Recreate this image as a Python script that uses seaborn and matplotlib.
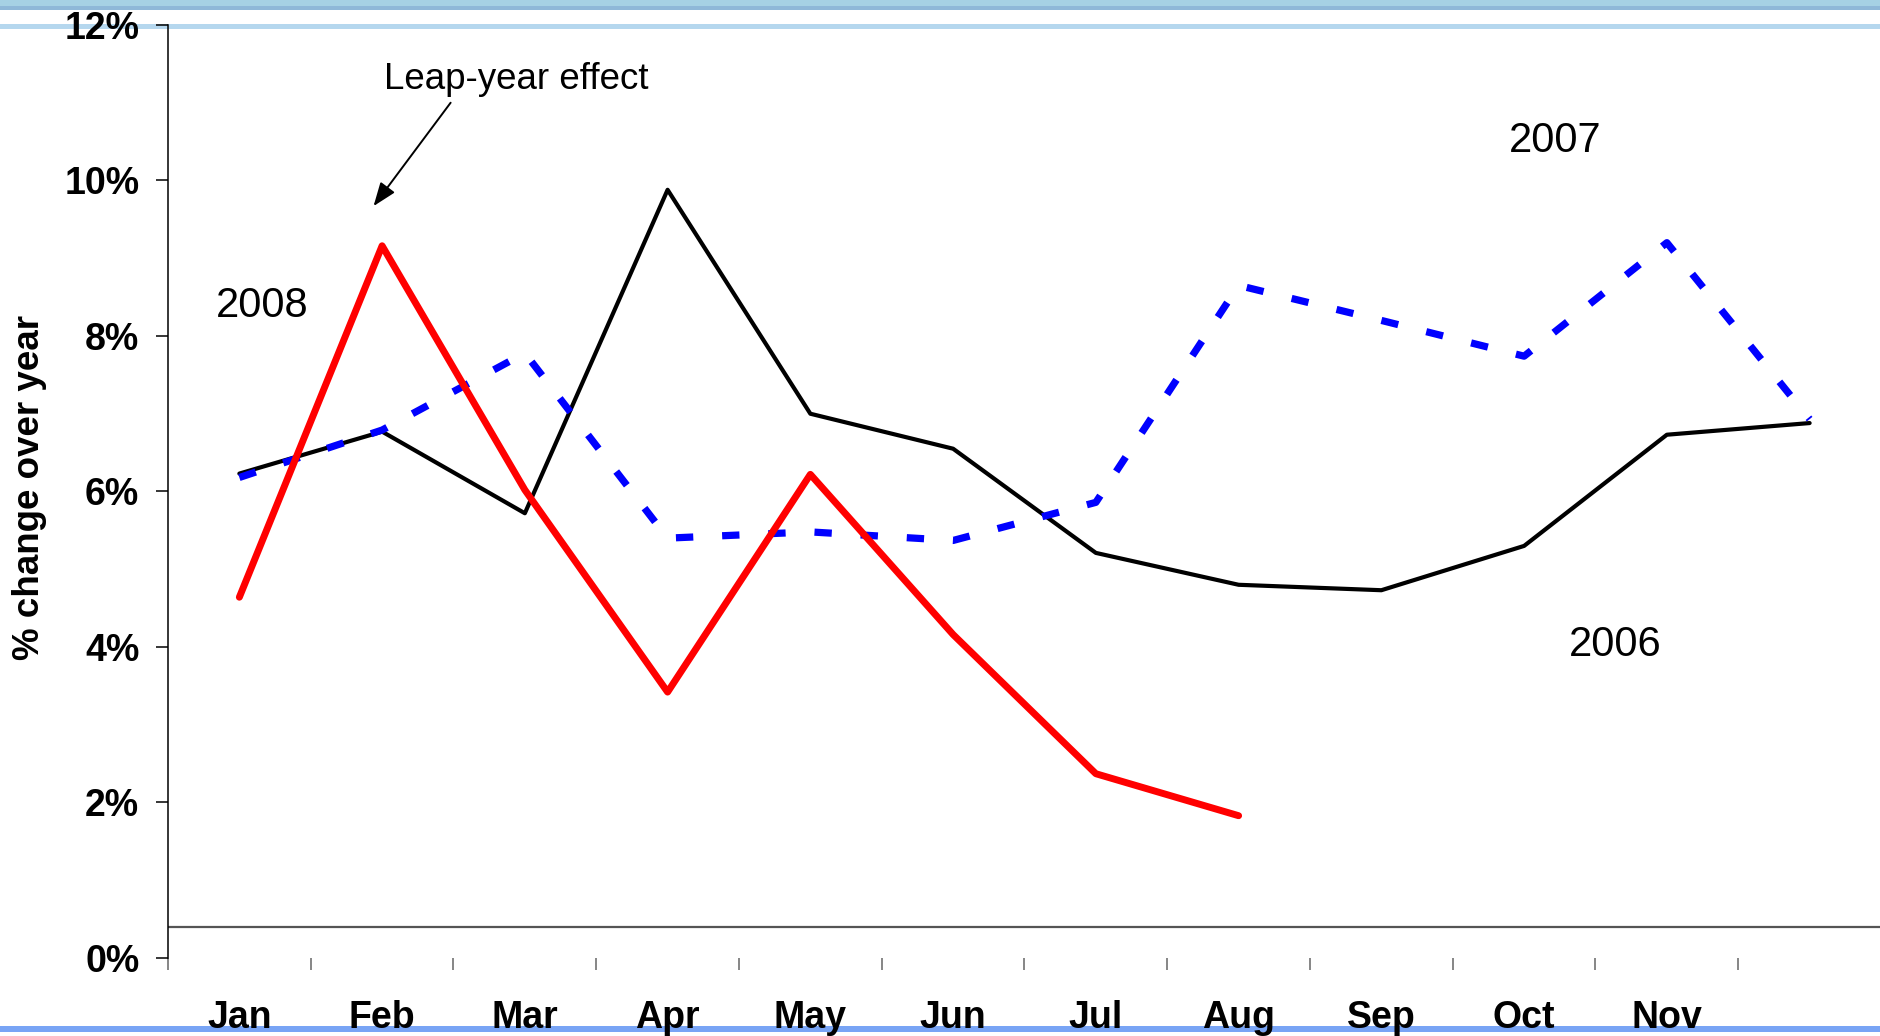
import matplotlib
matplotlib.use("Agg")
import matplotlib.pyplot as plt
from matplotlib.patches import Rectangle
import numpy as np
import pandas as pd
import seaborn as sns

# ---- data -------------------------------------------------------------
months = ["Jan", "Feb", "Mar", "Apr", "May", "Jun",
          "Jul", "Aug", "Sep", "Oct", "Nov", "Dec"]
month_tick_labels = ["Jan", "Feb", "Mar", "Apr", "May", "Jun",
                     "Jul", "Aug", "Sep", "Oct", "Nov"]
growth_2006 = [6.23, 6.77, 5.72, 9.88, 7.00, 6.55, 5.21, 4.80, 4.73, 5.30, 6.73, 6.88]
growth_2007 = [6.18, 6.79, 7.78, 5.40, 5.48, 5.37, 5.86, 8.65, 8.20, 7.74, 9.20, 6.93]
growth_2008 = [4.64, 9.16, 6.02, 3.42, 6.22, 4.16, 2.37, 1.83]
y_ticks = [0, 2, 4, 6, 8, 10, 12]
y_tick_labels = ["0%", "2%", "4%", "6%", "8%", "10%", "12%"]
baseline = 0.4

# ---- style ------------------------------------------------------------
sns.set_style("white")
plt.rcParams["font.family"] = ["Liberation Sans", "DejaVu Sans"]
plt.rcParams["text.color"] = "black"
plt.rcParams["xtick.labelcolor"] = "black"
plt.rcParams["ytick.labelcolor"] = "black"
plt.rcParams["axes.labelcolor"] = "black"

fig = plt.figure(figsize=(18.81, 10.36), dpi=100)
fig.patch.set_facecolor("white")

# decorative header / footer rules
fig.add_artist(Rectangle((0, 1 - 6 / 1036), 1, 6 / 1036, transform=fig.transFigure,
                         color="#a6d1e4", lw=0, zorder=0))
fig.add_artist(Rectangle((0, 1 - 10 / 1036), 1, 4 / 1036, transform=fig.transFigure,
                         color="#8fb8d8", lw=0, zorder=0))
fig.add_artist(Rectangle((0, 1 - 29 / 1036), 1, 5 / 1036, transform=fig.transFigure,
                         color="#b5d7ee", lw=0, zorder=0))
fig.add_artist(Rectangle((0, 1 - 1032 / 1036), 1, 6 / 1036, transform=fig.transFigure,
                         color="#78a4f5", lw=0, zorder=0))

ax = fig.add_axes([0.0893, 0.0753, 0.9107, 0.9006])
ax.set_facecolor("none")

df06 = pd.DataFrame({"m": np.arange(len(growth_2006)), "v": growth_2006})
df07 = pd.DataFrame({"m": np.arange(len(growth_2007)), "v": growth_2007})
df08 = pd.DataFrame({"m": np.arange(len(growth_2008)), "v": growth_2008})

sns.lineplot(data=df06, x="m", y="v", ax=ax, color="black", lw=3.0,
             sort=False, legend=False, zorder=3)
sns.lineplot(data=df07, x="m", y="v", ax=ax, color="#0000ff", lw=5.2,
             sort=False, legend=False, zorder=4)
ax.lines[-1].set_dashes([2.4, 4.0])
ax.lines[-1].set_dash_capstyle("butt")
sns.lineplot(data=df08, x="m", y="v", ax=ax, color="#ff0000", lw=5.0,
             sort=False, legend=False, zorder=5)

ax.axhline(baseline, color="#555555", lw=1.6, zorder=2)

# axes
ax.set_xlim(-0.5, len(months) - 0.5)
ax.set_ylim(0, 12)
for s in ["top", "right", "bottom"]:
    ax.spines[s].set_visible(False)
ax.spines["left"].set_color("black")
ax.spines["left"].set_linewidth(1.1)

ax.set_yticks(y_ticks)
ax.set_yticklabels(y_tick_labels, fontsize=27, fontweight="bold")
ax.tick_params(axis="y", length=8.6, width=1.1, color="black", pad=12, left=True)

ax.set_xticks(np.arange(len(month_tick_labels)))
ax.set_xticklabels(month_tick_labels, fontsize=27, fontweight="bold")
ax.set_xticks(np.arange(len(months) + 1) - 0.5, minor=True)
ax.tick_params(axis="x", which="major", length=0, pad=30, bottom=True)
ax.tick_params(axis="x", which="minor", length=8.6, width=1.1, color="#666666",
               bottom=True)
ax.set_xlabel("")
ax.set_ylabel("")

fig.text(30 / 1881, 0.529, "% change over year", rotation=90, fontsize=26.5,
         fontweight="bold", ha="center", va="center")

# annotations
ax.text(0.16, 8.39, "2008", fontsize=30, ha="center", va="center")
ax.text(9.22, 10.51, "2007", fontsize=30, ha="center", va="center")
ax.text(9.64, 4.02, "2006", fontsize=30, ha="center", va="center")
ax.text(1.94, 11.30, "Leap-year effect", fontsize=26.5, ha="center", va="center")
ax.annotate("", xy=(0.94, 9.67), xytext=(1.48, 11.0),
            arrowprops=dict(arrowstyle="-|>,head_length=0.8,head_width=0.3",
                            color="black", lw=1.4, mutation_scale=18,
                            shrinkA=0, shrinkB=0))

fig.savefig("out.png", dpi=100, facecolor="white")
